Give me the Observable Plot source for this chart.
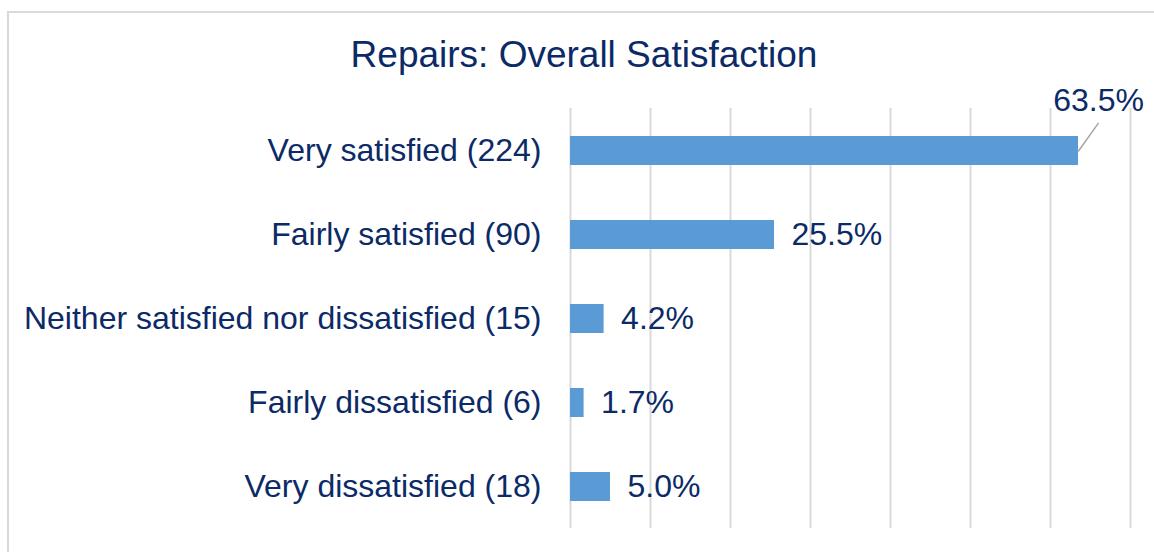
<!DOCTYPE html>
<html>
<head>
<meta charset="utf-8">
<script src="https://cdn.jsdelivr.net/npm/d3@7"></script>
<script src="https://cdn.jsdelivr.net/npm/@observablehq/plot@0.6"></script>
<style>
  html, body { margin: 0; padding: 0; background: #fff; }
  #wrap { position: relative; width: 1154px; height: 552px; overflow: hidden; }
  #frame { position: absolute; left: 7px; top: 11px; width: 1170px; height: 570px; border: 2px solid #d9d9d9; box-sizing: border-box; }
  #title { position: absolute; left: 0; top: 36px; width: 1168px; text-align: center;
    font-family: "Liberation Sans", Arial, sans-serif; font-size: 37px; line-height: 37px; color: #0b2a66; }
  #chart { position: absolute; left: 0; top: 0; }
</style>
</head>
<body>
<div id="wrap">
  <div id="frame"></div>
  <div id="title">Repairs: Overall Satisfaction</div>
  <div id="chart"></div>
</div>
<script>
const categories = [
  "Very satisfied (224)",
  "Fairly satisfied (90)",
  "Neither satisfied nor dissatisfied (15)",
  "Fairly dissatisfied (6)",
  "Very dissatisfied (18)"
];
const values = [63.5, 25.5, 4.2, 1.7, 5.0];
const gridTicks = [0, 10, 20, 30, 40, 50, 60, 70];

const data = categories.map((c, i) => ({category: c, value: values[i], label: values[i].toFixed(1) + "%"}));
const navy = "#0b2a66";
const calloutData = data.slice(0, 1);
const inlineData = data.slice(1);

const chart = Plot.plot({
  width: 1154,
  height: 552,
  marginTop: 108,
  marginBottom: 24,
  marginLeft: 570,
  marginRight: 24,
  style: {fontFamily: "'Liberation Sans', Arial, sans-serif", background: "transparent"},
  x: {domain: [0, 70], axis: null},
  y: {domain: categories, paddingInner: 0.655, paddingOuter: 0.3275, label: null},
  marks: [
    Plot.ruleX(gridTicks, {stroke: "#d9d9d9", strokeWidth: 2}),
    Plot.axisY({tickSize: 0, tickPadding: 29, fontSize: 32, fill: navy, label: null}),
    Plot.barX(data, {y: "category", x: "value", fill: "#5b9bd5"}),
    Plot.text(inlineData, {y: "category", x: "value", text: "label", textAnchor: "start", dx: 17, fontSize: 32, fill: navy}),
    Plot.vector(calloutData, {
      y: "category", x: "value", anchor: "start", rotate: 35.5, length: 34,
      stroke: "#a6a6a6", strokeWidth: 1.5,
      shape: {draw(context, l) { context.moveTo(0, 0); context.lineTo(0, -l); }}
    }),
    Plot.text(calloutData, {y: "category", x: "value", text: "label", textAnchor: "middle", dx: 20, dy: -50, fontSize: 32, fill: navy})
  ]
});
document.getElementById("chart").appendChild(chart);
</script>
</body>
</html>
